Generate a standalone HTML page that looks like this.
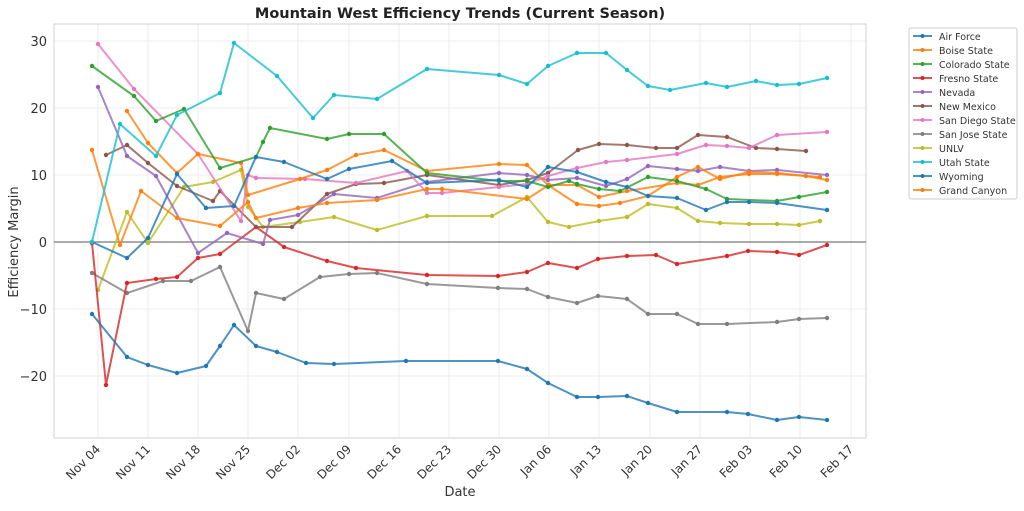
<!DOCTYPE html>
<html><head><meta charset="utf-8"><style>
body{margin:0;background:#fff;}
svg text{font-family:"DejaVu Sans","Liberation Sans",sans-serif;fill:#333;}
</style></head><body>
<svg width="1024" height="506" viewBox="0 0 1024 506" xmlns="http://www.w3.org/2000/svg">
<defs>
<marker id="m1" markerUnits="userSpaceOnUse" markerWidth="6" markerHeight="6" refX="3" refY="3"><circle cx="3" cy="3" r="2.2" fill="#1f77b4"/></marker>
<marker id="m2" markerUnits="userSpaceOnUse" markerWidth="6" markerHeight="6" refX="3" refY="3"><circle cx="3" cy="3" r="2.2" fill="#ff7f0e"/></marker>
<marker id="m3" markerUnits="userSpaceOnUse" markerWidth="6" markerHeight="6" refX="3" refY="3"><circle cx="3" cy="3" r="2.2" fill="#2ca02c"/></marker>
<marker id="m4" markerUnits="userSpaceOnUse" markerWidth="6" markerHeight="6" refX="3" refY="3"><circle cx="3" cy="3" r="2.2" fill="#d62728"/></marker>
<marker id="m5" markerUnits="userSpaceOnUse" markerWidth="6" markerHeight="6" refX="3" refY="3"><circle cx="3" cy="3" r="2.2" fill="#9467bd"/></marker>
<marker id="m6" markerUnits="userSpaceOnUse" markerWidth="6" markerHeight="6" refX="3" refY="3"><circle cx="3" cy="3" r="2.2" fill="#8c564b"/></marker>
<marker id="m7" markerUnits="userSpaceOnUse" markerWidth="6" markerHeight="6" refX="3" refY="3"><circle cx="3" cy="3" r="2.2" fill="#e377c2"/></marker>
<marker id="m8" markerUnits="userSpaceOnUse" markerWidth="6" markerHeight="6" refX="3" refY="3"><circle cx="3" cy="3" r="2.2" fill="#7f7f7f"/></marker>
<marker id="m9" markerUnits="userSpaceOnUse" markerWidth="6" markerHeight="6" refX="3" refY="3"><circle cx="3" cy="3" r="2.2" fill="#bcbd22"/></marker>
<marker id="m10" markerUnits="userSpaceOnUse" markerWidth="6" markerHeight="6" refX="3" refY="3"><circle cx="3" cy="3" r="2.2" fill="#17becf"/></marker>
</defs>
<rect width="1024" height="506" fill="#fff"/>
<g stroke="#ececec" stroke-width="1">
<line x1="98" y1="24" x2="98" y2="438"/><line x1="148" y1="24" x2="148" y2="438"/><line x1="198" y1="24" x2="198" y2="438"/><line x1="248" y1="24" x2="248" y2="438"/><line x1="298" y1="24" x2="298" y2="438"/><line x1="349" y1="24" x2="349" y2="438"/><line x1="399" y1="24" x2="399" y2="438"/><line x1="449" y1="24" x2="449" y2="438"/><line x1="499" y1="24" x2="499" y2="438"/><line x1="549" y1="24" x2="549" y2="438"/><line x1="599" y1="24" x2="599" y2="438"/><line x1="650" y1="24" x2="650" y2="438"/><line x1="700" y1="24" x2="700" y2="438"/><line x1="750" y1="24" x2="750" y2="438"/><line x1="800" y1="24" x2="800" y2="438"/><line x1="851" y1="24" x2="851" y2="438"/>
<line x1="54" y1="41" x2="866" y2="41"/><line x1="54" y1="108" x2="866" y2="108"/><line x1="54" y1="175" x2="866" y2="175"/><line x1="54" y1="309" x2="866" y2="309"/><line x1="54" y1="376" x2="866" y2="376"/>
</g>
<rect x="54" y="24" width="812" height="414" fill="none" stroke="#d8d8d8" stroke-width="1.2"/>
<line x1="54" y1="242" x2="866" y2="242" stroke="#777" stroke-width="1.2"/>
<g font-size="13" text-anchor="end">
<text x="47" y="46">30</text><text x="47" y="113">20</text><text x="47" y="180">10</text><text x="47" y="247">0</text><text x="47" y="314">−10</text><text x="47" y="381">−20</text>
</g>
<g font-size="12" text-anchor="end">
<text transform="translate(101,450) rotate(-45)">Nov 04</text>
<text transform="translate(151,450) rotate(-45)">Nov 11</text>
<text transform="translate(201,450) rotate(-45)">Nov 18</text>
<text transform="translate(251,450) rotate(-45)">Nov 25</text>
<text transform="translate(301,450) rotate(-45)">Dec 02</text>
<text transform="translate(352,450) rotate(-45)">Dec 09</text>
<text transform="translate(402,450) rotate(-45)">Dec 16</text>
<text transform="translate(452,450) rotate(-45)">Dec 23</text>
<text transform="translate(502,450) rotate(-45)">Dec 30</text>
<text transform="translate(552,450) rotate(-45)">Jan 06</text>
<text transform="translate(602,450) rotate(-45)">Jan 13</text>
<text transform="translate(653,450) rotate(-45)">Jan 20</text>
<text transform="translate(703,450) rotate(-45)">Jan 27</text>
<text transform="translate(753,450) rotate(-45)">Feb 03</text>
<text transform="translate(803,450) rotate(-45)">Feb 10</text>
<text transform="translate(854,450) rotate(-45)">Feb 17</text>
</g>
<text x="460" y="496" font-size="13" text-anchor="middle">Date</text>
<text transform="translate(18,242) rotate(-90)" font-size="13" text-anchor="middle">Efficiency Margin</text>
<text x="460" y="18" font-size="14.5" font-weight="bold" text-anchor="middle" style="fill:#222">Mountain West Efficiency Trends (Current Season)</text>
<g fill="none" stroke-width="2" stroke-opacity="0.8" stroke-linejoin="round">
<polyline stroke="#bcbd22" marker-start="url(#m9)" marker-mid="url(#m9)" marker-end="url(#m9)" points="98,290 127,212 148,243 184,187 213,182 241,170 248,207 263,227 300,222 334,217 377,230 427,216 492,216 527,197 548,222 569,227 599,221 627,217 648,204 677,208 698,221 720,223 749,224 777,224 799,225 820,221"/>
<polyline stroke="#7f7f7f" marker-start="url(#m8)" marker-mid="url(#m8)" marker-end="url(#m8)" points="92,273 127,293 163,281 191,281 220,267 248,331 256,293 284,299 320,277 349,274 377,273 427,284 498,288 527,289 548,297 577,303 598,296 627,299 648,314 677,314 698,324 727,324 777,322 799,319 827,318"/>
<polyline stroke="#d62728" marker-start="url(#m4)" marker-mid="url(#m4)" marker-end="url(#m4)" points="92,243 106,385 127,283 156,279 177,277 198,258 220,254 256,227 284,247 327,261 356,268 427,275 498,276 527,272 548,263 577,268 598,259 627,256 656,255 677,264 727,256 748,251 777,252 799,255 827,245"/>
<polyline stroke="#1f77b4" marker-start="url(#m1)" marker-mid="url(#m1)" marker-end="url(#m1)" points="92,314 127,357 148,365 177,373 206,366 220,346 234,325 256,346 277,352 306,363 334,364 406,361 498,361 527,369 548,383 577,397 598,397 627,396 648,403 677,412 727,412 748,414 777,420 799,417 827,420"/>
<polyline stroke="#8c564b" marker-start="url(#m6)" marker-mid="url(#m6)" marker-end="url(#m6)" points="106,155 127,145 148,163 177,186 213,201 220,191 256,227 292,227 327,194 356,184 384,183 427,175 499,185 527,180 548,173 578,150 599,144 627,145 656,148 677,148 698,135 727,137 756,148 777,149 806,151"/>
<polyline stroke="#9467bd" marker-start="url(#m5)" marker-mid="url(#m5)" marker-end="url(#m5)" points="98,87 127,156 156,176 198,253 227,233 263,244 270,220 298,215 334,194 377,198 427,182 499,173 527,175 548,180 577,178 606,186 627,179 648,166 677,169 698,171 720,167 749,171 777,170 827,175"/>
<polyline stroke="#e377c2" marker-start="url(#m7)" marker-mid="url(#m7)" marker-end="url(#m7)" points="98,44 134,89 198,154 241,221 248,175 256,178 305,179 356,183 407,171 427,193 442,193 499,187 527,184 548,176 577,168 606,162 627,160 677,154 706,145 727,146 749,148 777,135 827,132"/>
<polyline stroke="#ff7f0e" marker-start="url(#m2)" marker-mid="url(#m2)" marker-end="url(#m2)" points="92,150 120,245 141,191 177,218 220,226 248,202 256,218 298,208 327,203 377,200 427,189 442,189 527,199 549,185 577,185 599,197 627,191 677,183 698,185 720,177 749,174 777,174 806,176 820,177"/>
<polyline stroke="#ff7f0e" marker-start="url(#m2)" marker-mid="url(#m2)" marker-end="url(#m2)" points="127,111 148,143 177,173 198,154 241,163 248,195 300,179 327,170 356,155 384,150 427,171 499,164 527,165 548,185 577,204 599,206 620,203 648,196 677,177 698,167 720,179 749,172 777,173 806,176 827,180"/>
<polyline stroke="#2ca02c" marker-start="url(#m3)" marker-mid="url(#m3)" marker-end="url(#m3)" points="92,66 134,96 156,121 184,109 220,168 256,157 263,142 270,128 327,139 349,134 384,134 427,173 499,181 527,181 548,187 569,181 577,184 599,189 620,191 648,177 677,181 706,189 727,199 777,201 799,197 827,192"/>
<polyline stroke="#1f77b4" marker-start="url(#m1)" marker-mid="url(#m1)" marker-end="url(#m1)" points="92,242 127,258 148,238 177,174 206,208 234,206 256,157 284,162 327,179 349,169 392,161 427,183 499,180 527,187 548,167 577,172 606,182 627,187 648,196 677,198 706,210 727,202 749,202 777,203 827,210"/>
<polyline stroke="#17becf" marker-start="url(#m10)" marker-mid="url(#m10)" marker-end="url(#m10)" points="92,242 120,124 156,156 177,115 220,93 234,43 277,76 313,118 334,95 377,99 427,69 499,75 527,84 548,66 577,53 606,53 627,70 648,86 670,90 706,83 727,87 756,81 777,85 799,84 827,78"/>
</g>
<g>
<rect x="909" y="28" width="108" height="171" fill="#fff" stroke="#ccc" rx="2"/>
<g stroke-width="2" stroke-opacity="0.8">
<line x1="913" y1="36" x2="932" y2="36" stroke="#1f77b4" marker-mid="url(#m1)"/>
<line x1="913" y1="50" x2="932" y2="50" stroke="#ff7f0e"/>
<line x1="913" y1="64" x2="932" y2="64" stroke="#2ca02c"/>
<line x1="913" y1="78" x2="932" y2="78" stroke="#d62728"/>
<line x1="913" y1="92" x2="932" y2="92" stroke="#9467bd"/>
<line x1="913" y1="106" x2="932" y2="106" stroke="#8c564b"/>
<line x1="913" y1="120" x2="932" y2="120" stroke="#e377c2"/>
<line x1="913" y1="134" x2="932" y2="134" stroke="#7f7f7f"/>
<line x1="913" y1="148" x2="932" y2="148" stroke="#bcbd22"/>
<line x1="913" y1="162" x2="932" y2="162" stroke="#17becf"/>
<line x1="913" y1="176" x2="932" y2="176" stroke="#1f77b4"/>
<line x1="913" y1="190" x2="932" y2="190" stroke="#ff7f0e"/>
</g>
<g>
<circle cx="922.5" cy="36" r="2" fill="#1f77b4"/><circle cx="922.5" cy="50" r="2" fill="#ff7f0e"/><circle cx="922.5" cy="64" r="2" fill="#2ca02c"/><circle cx="922.5" cy="78" r="2" fill="#d62728"/><circle cx="922.5" cy="92" r="2" fill="#9467bd"/><circle cx="922.5" cy="106" r="2" fill="#8c564b"/><circle cx="922.5" cy="120" r="2" fill="#e377c2"/><circle cx="922.5" cy="134" r="2" fill="#7f7f7f"/><circle cx="922.5" cy="148" r="2" fill="#bcbd22"/><circle cx="922.5" cy="162" r="2" fill="#17becf"/><circle cx="922.5" cy="176" r="2" fill="#1f77b4"/><circle cx="922.5" cy="190" r="2" fill="#ff7f0e"/>
</g>
<g font-size="9.5">
<text x="939" y="40">Air Force</text><text x="939" y="54">Boise State</text><text x="939" y="68">Colorado State</text><text x="939" y="82">Fresno State</text><text x="939" y="96">Nevada</text><text x="939" y="110">New Mexico</text><text x="939" y="124">San Diego State</text><text x="939" y="138">San Jose State</text><text x="939" y="152">UNLV</text><text x="939" y="166">Utah State</text><text x="939" y="180">Wyoming</text><text x="939" y="194">Grand Canyon</text>
</g>
</g>
</svg>
</body></html>
